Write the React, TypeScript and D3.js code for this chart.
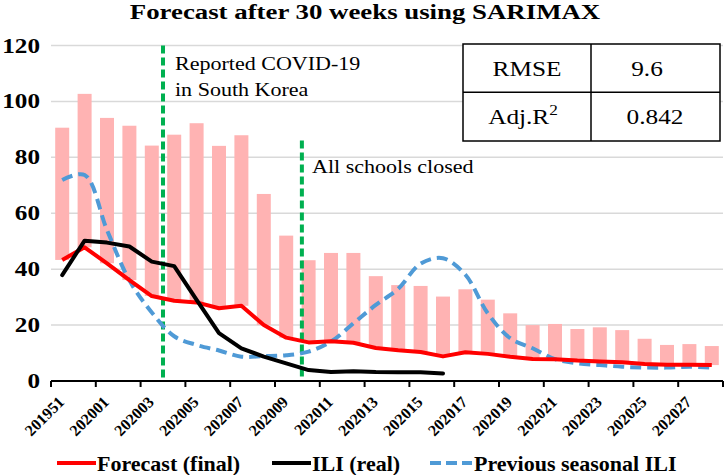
import React from "react";
import * as d3 from "d3";

const weeks = [
  "201951", "201952", "202001", "202002", "202003", "202004", "202005", "202006",
  "202007", "202008", "202009", "202010", "202011", "202012", "202013", "202014",
  "202015", "202016", "202017", "202018", "202019", "202020", "202021", "202022",
  "202023", "202024", "202025", "202026", "202027", "202028",
];
const upperBound = [
  90.6, 102.7, 94.1, 91.3, 84.2, 88.1, 92.2, 84.1, 87.9, 66.9, 52, 43.2, 45.8, 45.8,
  37.5, 34.3, 34, 30.2, 32.8, 29.1, 24.2, 20, 20.4, 18.6, 19.2, 18.2, 15.1, 12.9, 13.2, 12.5,
];
const forecast = [
  43.3, 47.8, 42.1, 36.1, 30.4, 28.7, 28.1, 26, 26.9, 20, 15.5, 13.8, 14.2, 13.7, 11.8,
  11, 10.4, 8.8, 10.3, 9.7, 8.7, 7.9, 7.8, 7.3, 7.0, 6.7, 6.1, 5.8, 5.8, 5.7,
];
const iliReal = [
  37.9, 50.2, 49.5, 48.1, 42.7, 41.1, 29, 17.1, 11.7, 8.7, 6.3, 3.9, 3.2, 3.5, 3.2, 3.1, 3.1, 2.7,
];
const prevSeason = [
  71.9, 73.7, 54, 36, 24.5, 16, 12.9, 10.9, 8.7, 8.9, 9.2, 10.5, 14.1, 20.6, 27.2, 33,
  42, 43.9, 38, 24.2, 15.3, 11.7, 7.8, 6.3, 5.7, 5.1, 4.8, 4.8, 5.1, 4.8,
];
const yTicks = [0, 20, 40, 60, 80, 100, 120];
const events = [
  { pos: 5.0, top: 120, lines: ["Reported COVID-19", "in South Korea"] },
  { pos: 11.2, top: 86, lines: ["All schools closed"] },
];
const statsLabels = ["RMSE", "Adj.R"];
const statsValues = ["9.6", "0.842"];

const W = 725;
const H = 475;
const X0 = 51;
const X1 = 723;
const FONT = "'Liberation Serif', 'Times New Roman', serif";

function T(props: {
  x: number;
  y: number;
  sx?: number;
  size: number;
  bold?: boolean;
  anchor?: string;
  children: React.ReactNode;
}) {
  const { x, y, sx = 1, size, bold, anchor = "start", children } = props;
  return (
    <text
      transform={`translate(${x},${y}) scale(${sx},1)`}
      fontSize={size}
      fontWeight={bold ? "bold" : "normal"}
      textAnchor={anchor}
    >
      {children}
    </text>
  );
}

export default function App() {
  const n = weeks.length;
  const xb = d3.scaleLinear().domain([0, n]).range([X0, X1]);
  const cx = (i: number) => xb(i + 0.5);
  const step = xb(1) - xb(0);
  const barW = step * 0.625;
  const y = d3.scaleLinear().domain([0, 120]).range([381, 45.5]);

  const lineLin = d3
    .line<number>()
    .x((_, i) => cx(i))
    .y((d) => y(d));
  const lineSmooth = d3
    .line<number>()
    .x((_, i) => cx(i))
    .y((d) => y(d))
    .curve(d3.curveCatmullRom.alpha(0.5));

  const tickIdx = d3.range(0, n + 1, 2);
  const labelIdx = d3.range(0, n, 2);

  const tx0 = 463, tx1 = 720, tmid = 591, ty0 = 44, ty1 = 92.3, ty2 = 141;

  return (
    <svg width={W} height={H} style={{ position: "absolute", left: 0, top: 0, background: "#fff" }} fontFamily={FONT}>
      <rect x={0} y={0} width={W} height={H} fill="#fff" />
      <T x={365} y={19} size={22} sx={1.22} bold anchor="middle">
        Forecast after 30 weeks using SARIMAX
      </T>

      {yTicks.filter((t) => t > 0).map((t) => (
        <line key={t} x1={X0} x2={X1} y1={y(t)} y2={y(t)} stroke="#d9d9d9" strokeWidth={1.5} />
      ))}
      {yTicks.map((t) => (
        <T key={"yl" + t} x={40} y={y(t) + 7} size={21} sx={1.2} bold anchor="end">
          {t}
        </T>
      ))}

      {upperBound.map((u, i) => (
        <rect
          key={"b" + i}
          x={cx(i) - barW / 2}
          width={barW}
          y={y(u)}
          height={y(forecast[i]) - y(u)}
          fill="#ffb3b3"
        />
      ))}

      {events.map((e, k) => (
        <line
          key={"ev" + k}
          x1={xb(e.pos)}
          x2={xb(e.pos)}
          y1={y(e.top)}
          y2={y(0)}
          stroke="#00b050"
          strokeWidth={4}
          strokeDasharray="8,4"
        />
      ))}

      <path d={lineSmooth(prevSeason) || ""} fill="none" stroke="#4f9ad6" strokeWidth={4} strokeDasharray="11,6" />
      <path d={lineLin(forecast) || ""} fill="none" stroke="#ff0000" strokeWidth={4} strokeLinejoin="round" />
      <path d={lineLin(iliReal) || ""} fill="none" stroke="#000" strokeWidth={4} strokeLinejoin="round" strokeLinecap="round" />

      <line x1={X0} x2={X1} y1={y(0)} y2={y(0)} stroke="#000" strokeWidth={2} />
      {tickIdx.map((i) => (
        <line key={"t" + i} x1={xb(i)} x2={xb(i)} y1={y(0)} y2={y(0) + 6} stroke="#000" strokeWidth={2} />
      ))}
      {labelIdx.map((i) => (
        <text
          key={"xl" + i}
          transform={`translate(${cx(i) + 3},${y(0) + 22}) rotate(-45)`}
          textAnchor="end"
          fontWeight="bold"
          fontSize={16}
        >
          {weeks[i]}
        </text>
      ))}

      <T x={175} y={70} size={19} sx={1.16}>
        {events[0].lines[0]}
      </T>
      <T x={175} y={96} size={19} sx={1.16}>
        {events[0].lines[1]}
      </T>
      <T x={312} y={173} size={19} sx={1.16}>
        {events[1].lines[0]}
      </T>

      <rect x={tx0} y={ty0} width={tx1 - tx0} height={ty2 - ty0} fill="#fff" stroke="#000" strokeWidth={1.5} />
      <line x1={tx0} x2={tx1} y1={ty1} y2={ty1} stroke="#000" strokeWidth={1.5} />
      <line x1={tmid} x2={tmid} y1={ty0} y2={ty2} stroke="#000" strokeWidth={1.5} />
      <T x={(tx0 + tmid) / 2} y={76} size={22} sx={1.15} anchor="middle">
        {statsLabels[0]}
      </T>
      <T x={(tx0 + tmid) / 2 - 4} y={124} size={22} sx={1.15} anchor="middle">
        {statsLabels[1]}
        <tspan fontSize={15} dy={-9}>2</tspan>
      </T>
      <T x={647} y={76} size={22} sx={1.15} anchor="middle">
        {statsValues[0]}
      </T>
      <T x={655} y={124} size={22} sx={1.15} anchor="middle">
        {statsValues[1]}
      </T>

      <line x1={57} x2={96} y1={463} y2={463} stroke="#ff0000" strokeWidth={4} />
      <T x={97} y={471} size={22} bold>Forecast (final)</T>
      <line x1={272} x2={311} y1={463} y2={463} stroke="#000" strokeWidth={4} />
      <T x={312} y={471} size={22} bold>ILI (real)</T>
      <line x1={430} x2={472} y1={463} y2={463} stroke="#4f9ad6" strokeWidth={4} strokeDasharray="11,5" />
      <T x={474} y={471} size={22} bold>Previous seasonal ILI</T>
    </svg>
  );
}
